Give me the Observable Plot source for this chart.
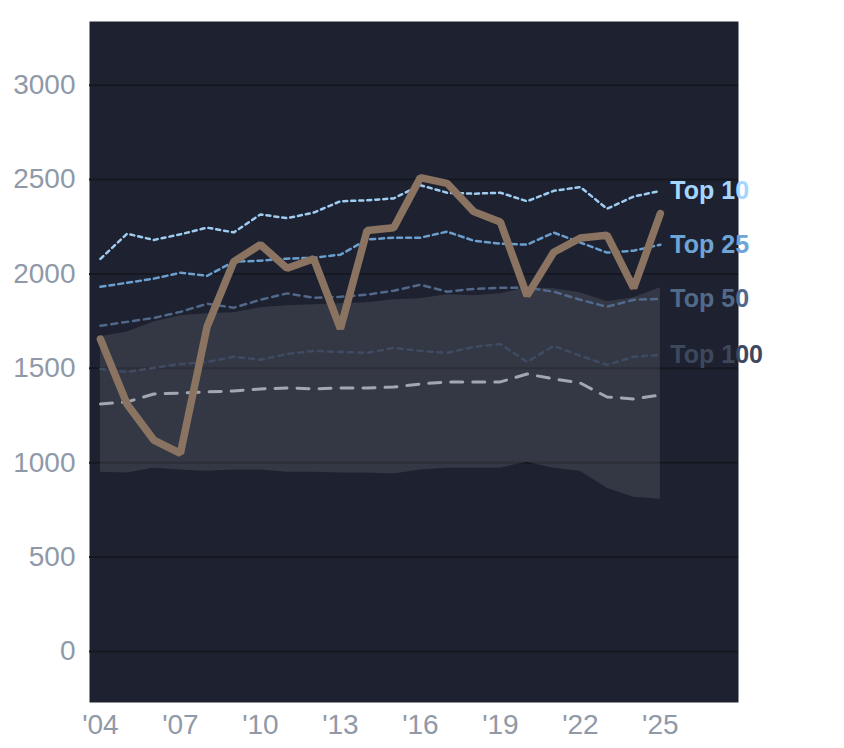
<!DOCTYPE html>
<html>
<head>
<meta charset="utf-8">
<script src="https://cdn.jsdelivr.net/npm/d3@7"></script>
<script src="https://cdn.jsdelivr.net/npm/@observablehq/plot@0.6"></script>
<style>
  html, body { margin: 0; padding: 0; background: #ffffff; }
</style>
</head>
<body>
<div id="chart"></div>
<script>
const years   = [2004,2005,2006,2007,2008,2009,2010,2011,2012,2013,2014,2015,2016,2017,2018,2019,2020,2021,2022,2023,2024,2025];
const main    = [1655,1310,1120,1050,1720,2065,2155,2030,2080,1710,2230,2245,2510,2480,2330,2275,1885,2115,2190,2205,1925,2320];
const top10   = [2080,2213,2180,2210,2245,2220,2315,2295,2325,2385,2390,2400,2470,2430,2425,2430,2385,2440,2460,2345,2410,2440];
const top25   = [1932,1953,1975,2006,1990,2065,2070,2081,2086,2102,2182,2192,2192,2224,2176,2160,2155,2219,2166,2113,2123,2155];
const top50   = [1725,1746,1767,1799,1842,1821,1863,1897,1874,1879,1890,1911,1943,1906,1921,1927,1927,1906,1863,1826,1863,1868];
const top100  = [1497,1481,1502,1523,1534,1561,1545,1576,1592,1587,1582,1608,1592,1582,1614,1629,1534,1619,1566,1518,1561,1571];
const median  = [1311,1322,1364,1369,1375,1380,1391,1396,1391,1396,1396,1401,1417,1428,1428,1428,1470,1444,1422,1348,1338,1359];
const bandHi  = [1667,1693,1746,1778,1789,1794,1821,1831,1837,1842,1847,1863,1868,1890,1884,1895,1927,1921,1900,1852,1874,1927];
const bandLo  = [950,945,971,961,955,961,961,950,950,945,945,940,961,971,971,971,1003,971,955,865,817,807];
const yTicks  = [0,500,1000,1500,2000,2500,3000];
const xTicks  = [2004,2007,2010,2013,2016,2019,2022,2025];
const seriesNames = ["Top 10","Top 25","Top 50","Top 100"];

const rows = years.map((y,i) => ({year:y, main:main[i], top10:top10[i], top25:top25[i], top50:top50[i], top100:top100[i], median:median[i], hi:bandHi[i], lo:bandLo[i]}));
const series = [
  {key:"top10",  name:seriesNames[0], color:"#9fcdf2", dash:"4,4", w:2.5},
  {key:"top25",  name:seriesNames[1], color:"#6a9fcf", dash:"5,4", w:2.5},
  {key:"top50",  name:seriesNames[2], color:"#51688a", dash:"6,5", w:2.5},
  {key:"top100", name:seriesNames[3], color:"#3f4b62", dash:"5,5", w:2.5}
];
const labelColors = {"Top 10":"#a6d6ff","Top 25":"#6fa5d6","Top 50":"#53698a","Top 100":"#3d485d"};
const last = rows[rows.length-1];
const labels = series.map(s => ({year:last.year, v:last[s.key], name:s.name}));

const chart = Plot.plot({
  width: 844,
  height: 748,
  marginLeft: 89,
  marginRight: 106,
  marginTop: 21,
  marginBottom: 46,
  style: {fontFamily: "'Liberation Sans', Arial, Helvetica, sans-serif", fontSize: "28px", color: "#8f99a8", background: "#ffffff", overflow: "visible"},
  x: {domain: [2003.59, 2027.93], ticks: xTicks, tickFormat: d => "'" + String(d).slice(2), tickSize: 0, tickPadding: 12, label: null},
  y: {domain: [-270, 3337], ticks: yTicks, tickFormat: d => String(d), tickSize: 0, tickPadding: 14, label: null},
  marks: [
    Plot.frame({fill: "#1e2230", stroke: null}),
    Plot.ruleY(yTicks, {stroke: "#151820", strokeWidth: 2}),
    Plot.areaY(rows, {x: "year", y1: "lo", y2: "hi", fill: "#ffffff", fillOpacity: 0.1}),
    Plot.lineY(rows, {x: "year", y: "median", stroke: "#a2a8b2", strokeWidth: 3, strokeDasharray: "12,10"}),
    ...series.slice().reverse().map(s => Plot.lineY(rows, {x: "year", y: s.key, stroke: s.color, strokeWidth: s.w, strokeDasharray: s.dash})),
    Plot.lineY(rows, {x: "year", y: "main", stroke: "#8a7461", strokeWidth: 7.5, strokeLinejoin: "miter"}),
    Plot.text(labels, {x: "year", y: "v", text: "name", dx: 10, textAnchor: "start", fill: d => labelColors[d.name], fontWeight: "bold", fontSize: 25})
  ]
});
document.getElementById("chart").appendChild(chart);
</script>
</body>
</html>
